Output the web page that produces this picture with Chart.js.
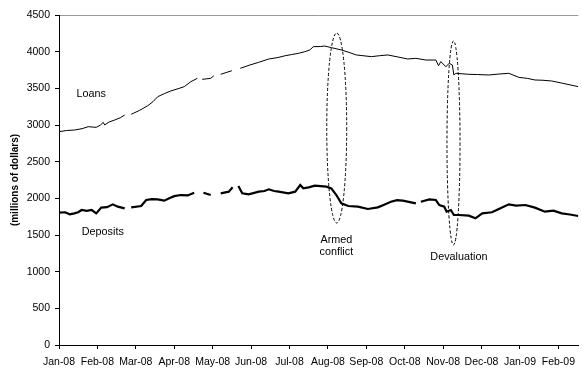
<!DOCTYPE html>
<html>
<head>
<meta charset="utf-8">
<script src="https://cdn.jsdelivr.net/npm/chart.js@4/dist/chart.umd.min.js"></script>
<style>
  html, body { margin: 0; padding: 0; background: #fff; }
  #wrap { width: 582px; height: 369px; position: relative; }
</style>
</head>
<body>
<div id="wrap"><canvas id="chart"></canvas></div>
<script>
// x position = months since Jan-08 (0 = Jan-08 tick), null value = gap in series
const monthLabels = ['Jan-08', 'Feb-08', 'Mar-08', 'Apr-08', 'May-08', 'Jun-08', 'Jul-08',
  'Aug-08', 'Sep-08', 'Oct-08', 'Nov-08', 'Dec-08', 'Jan-09', 'Feb-09'];

const loanPos = [0, 0.2, 0.41, 0.6, 0.76, 0.97, 1.08, 1.15, 1.19, 1.3, 1.45, 1.6, 1.71, 1.8,
  1.88, 2.1, 2.31, 2.45, 2.57, 2.75, 2.91, 3.1, 3.26, 3.43, 3.6, 3.66,
  3.73, 3.85, 3.95, 4.03, 4.1, 4.21, 4.35, 4.5, 4.58, 4.72, 4.95, 5.2, 5.46, 5.7, 5.89, 6.05,
  6.23, 6.4, 6.53, 6.62, 6.8, 6.92, 7.09, 7.35, 7.55, 7.74, 8.13, 8.35, 8.56, 8.8, 9.08, 9.29,
  9.55, 9.81, 9.88, 9.94, 10.07, 10.16, 10.24, 10.28, 10.33, 10.67, 10.9, 11.19, 11.45, 11.71,
  11.97, 12.2, 12.39, 12.6, 12.83, 13.1, 13.52];
const loanVals = [2909, 2925, 2932, 2950, 2977, 2968, 3000, 3036, 3000, 3040, 3068, 3100, 3136, null,
  3146, 3200, 3263, 3320, 3386, 3430, 3464, 3495, 3523, 3590, 3636, null,
  3623, 3630, 3636, 3672, null, 3691, 3715, 3740, null, 3773, 3815, 3855, 3900, 3920, 3945, 3960,
  3977, 4000, 4023, 4068, 4070, 4077, 4055, 4023, 3990, 3955, 3932, 3945, 3955, 3930, 3900, 3909,
  3886, 3886, 3809, 3864, 3795, 3841, 3818, 3682, 3705, 3691, 3688, 3682, 3695, 3705,
  3650, 3635, 3614, 3610, 3600, 3570, 3523];

const depPos = [0, 0.16, 0.28, 0.4, 0.5, 0.59, 0.72, 0.85, 0.97, 1.1, 1.25, 1.4, 1.53, 1.71, 1.8,
  1.88, 2.14, 2.27, 2.42, 2.57, 2.74, 2.87, 3.0, 3.17, 3.35, 3.52, 3.64,
  3.76, 3.95, 4.1, 4.21, 4.42, 4.52, 4.6, 4.67, 4.77, 4.94, 5.2, 5.35, 5.46, 5.6, 5.72, 5.97, 6.15,
  6.28, 6.36, 6.5, 6.66, 6.96, 7.09, 7.22, 7.35, 7.53, 7.78, 8.04, 8.3, 8.45, 8.64, 8.8, 8.95, 9.29, 9.36,
  9.42, 9.64, 9.81, 9.9, 10.03, 10.09, 10.2, 10.28, 10.41, 10.67, 10.84, 11.02, 11.27, 11.45,
  11.71, 11.9, 12.14, 12.39, 12.65, 12.87, 13.09, 13.3, 13.52];
const depVals = [1804, 1810, 1782, 1795, 1810, 1841, 1830, 1841, 1795, 1873, 1880, 1918, 1886, 1864, null,
  1877, 1895, 1977, 1990, 1986, 1968, 2000, 2030, 2045, 2040, 2077, null,
  2077, 2045, null, 2068, 2091, 2150, null, 2168, 2068, 2055, 2091, 2100, 2123, 2100, 2091, 2068, 2091,
  2182, 2136, 2150, 2173, 2159, 2136, 2045, 1932, 1895, 1886, 1855, 1877, 1910, 1954, 1975, 1968, 1932, null,
  1954, 1986, 1977, 1909, 1886, 1818, 1841, 1773, 1773, 1764, 1727, 1795, 1810, 1855,
  1918, 1900, 1909, 1873, 1818, 1832, 1795, 1780, 1759];

const yTicks = { min: 0, max: 4500, step: 500 };
const xMax = 13.52;

// annotation texts and ellipses, in data units
const notes = [
  { text: 'Loans', x: 0.84, y: 3423 },
  { text: 'Deposits', x: 1.14, y: 1545 },
  { text: 'Armed', x: 7.22, y: 1432 },
  { text: 'conflict', x: 7.22, y: 1268 },
  { text: 'Devaluation', x: 10.41, y: 1200 },
];
const ellipses = [
  { x: 7.23, y: 2959, rx: 0.26, ry: 1295 },
  { x: 10.27, y: 2755, rx: 0.17, ry: 1391 },
];

const FONT = 'Liberation Sans, Arial, sans-serif';

const toPoints = (xs, ys) => xs.map((x, i) => ({ x, y: ys[i] }));

const annotate = {
  id: 'annotate',
  afterDatasetsDraw(chart) {
    const { ctx, scales: { x, y } } = chart;
    ctx.save();
    ctx.strokeStyle = '#000';
    ctx.lineWidth = 1;
    ctx.setLineDash([3, 2]);
    for (const e of ellipses) {
      const cx = x.getPixelForValue(e.x), cy = y.getPixelForValue(e.y);
      const rx = x.getPixelForValue(e.x + e.rx) - cx;
      const ry = cy - y.getPixelForValue(e.y + e.ry);
      ctx.beginPath();
      ctx.ellipse(cx, cy, rx, ry, 0, 0, Math.PI * 2);
      ctx.stroke();
    }
    ctx.setLineDash([]);
    ctx.fillStyle = '#000';
    ctx.font = '10.8px ' + FONT;
    ctx.textAlign = 'center';
    ctx.textBaseline = 'middle';
    for (const n of notes) {
      ctx.fillText(n.text, x.getPixelForValue(n.x), y.getPixelForValue(n.y));
    }
    ctx.restore();
  }
};

new Chart(document.getElementById('chart'), {
  type: 'line',
  data: {
    datasets: [
      { label: 'Loans', data: toPoints(loanPos, loanVals), borderColor: '#000', borderWidth: 1, pointRadius: 0, tension: 0, spanGaps: false },
      { label: 'Deposits', data: toPoints(depPos, depVals), borderColor: '#000', borderWidth: 2.2, pointRadius: 0, tension: 0, spanGaps: false },
    ]
  },
  options: {
    responsive: true,
    maintainAspectRatio: false,
    animation: false,
    layout: { padding: { top: 15, right: 0, bottom: 0, left: 0 } },
    plugins: { legend: { display: false }, tooltip: { enabled: false } },
    scales: {
      x: {
        type: 'linear',
        min: 0,
        max: xMax,
        afterFit: s => { s.height = 24; },
        border: { color: '#000', width: 1 },
        grid: { drawOnChartArea: false, tickLength: 4, tickColor: '#000' },
        ticks: {
          stepSize: 1, autoSkip: false, maxRotation: 0, includeBounds: false, padding: 7,
          color: '#000', font: { family: FONT, size: 10.5 },
          callback: v => monthLabels[v] || ''
        }
      },
      y: {
        min: yTicks.min,
        max: yTicks.max,
        afterFit: s => { s.width = 59; },
        border: { color: '#000', width: 1 },
        grid: {
          tickLength: 4, tickColor: '#000',
          color: c => c.tick && c.tick.value === yTicks.max ? '#999' : 'rgba(0,0,0,0)'
        },
        ticks: { stepSize: yTicks.step, padding: 5, color: '#000', font: { family: FONT, size: 10.5 }, callback: v => String(v) },
        title: { display: true, text: '(millions of dollars)', color: '#000', padding: { top: 9, bottom: 0 }, font: { family: FONT, size: 10, weight: 'bold' } }
      }
    }
  },
  plugins: [annotate]
});
</script>
</body>
</html>
